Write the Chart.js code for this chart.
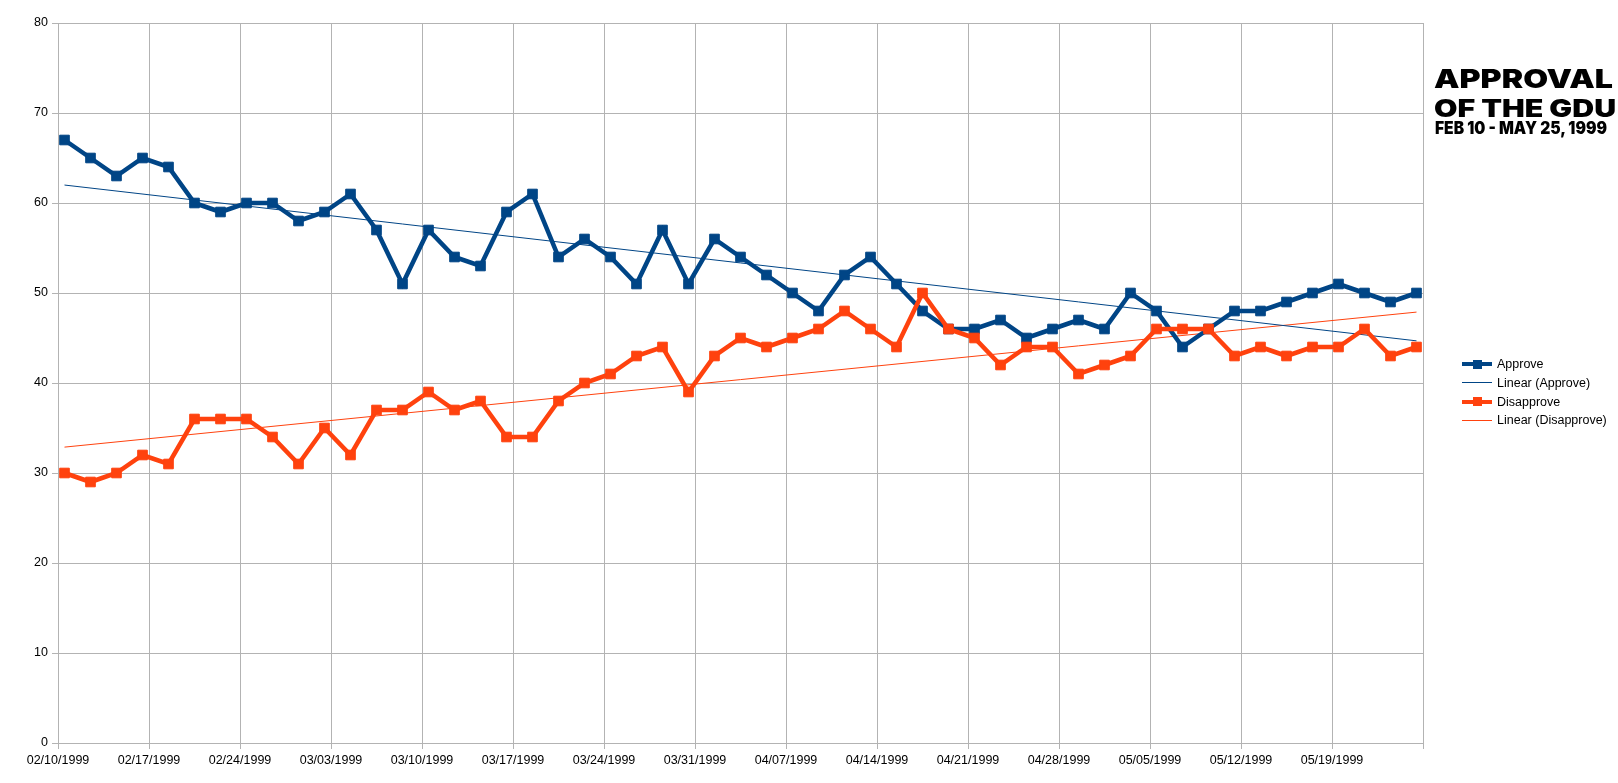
<!DOCTYPE html>
<html>
<head>
<meta charset="utf-8">
<title>Approval of the GDU</title>
<script src="https://cdn.jsdelivr.net/npm/chart.js@4.4.0/dist/chart.umd.min.js"></script>
<style>
    html, body { margin: 0; padding: 0; background: #fff; }
    #wrap { position: relative; width: 1618px; height: 783px; overflow: hidden; }
    #chart { position: absolute; left: 0; top: 0; }
    .title { position: absolute; left: 0; top: 0; white-space: nowrap; font-family: Inter, "DejaVu Sans", sans-serif; font-weight: 900; color: #000; line-height: 1; transform-origin: 0 0; }
    .legend-row { position: absolute; left: 1462px; height: 18px; display: flex; align-items: center; font-family: "Liberation Sans", Arial, sans-serif; font-size: 12.5px; color: #000; }
    .sym { position: relative; width: 30px; height: 18px; margin-right: 5px; }
    .sym .ln { position: absolute; left: 0; width: 30px; }
    .sym .sq { position: absolute; left: 10.5px; top: 4.5px; width: 9px; height: 9px; }
</style>
</head>
<body>
<div id="wrap">
    <canvas id="chart" width="1618" height="783"></canvas>
    <div id="t1" class="title">APPROVAL</div>
    <div id="t2" class="title">OF THE GDU</div>
    <div id="t3" class="title">FEB 10 - MAY 25, 1999</div>
    <div id="legend"></div>
</div>
<script>
// Poll dates (every two days)
const dates = [
    "02/10", "02/12", "02/14", "02/16", "02/18", "02/20", "02/22", "02/24", "02/26", "02/28",
    "03/02", "03/04", "03/06", "03/08", "03/10", "03/12", "03/14", "03/16", "03/18", "03/20",
    "03/22", "03/24", "03/26", "03/28", "03/30", "04/01", "04/03", "04/05", "04/07", "04/09",
    "04/11", "04/13", "04/15", "04/17", "04/19", "04/21", "04/23", "04/25", "04/27", "04/29",
    "05/01", "05/03", "05/05", "05/07", "05/09", "05/11", "05/13", "05/15", "05/17", "05/19",
    "05/21", "05/23", "05/25"
];
const year = 1999;

const approve = [
    67, 65, 63, 65, 64, 60, 59, 60, 60, 58,
    59, 61, 57, 51, 57, 54, 53, 59, 61, 54,
    56, 54, 51, 57, 51, 56, 54, 52, 50, 48,
    52, 54, 51, 48, 46, 46, 47, 45, 46, 47,
    46, 50, 48, 44, 46, 48, 48, 49, 50, 51,
    50, 49, 50
];
const disapprove = [
    30, 29, 30, 32, 31, 36, 36, 36, 34, 31,
    35, 32, 37, 37, 39, 37, 38, 34, 34, 38,
    40, 41, 43, 44, 39, 43, 45, 44, 45, 46,
    48, 46, 44, 50, 46, 45, 42, 44, 44, 41,
    42, 43, 46, 46, 46, 43, 44, 43, 44, 44,
    46, 43, 44
];

const xTickLabels = [
    "02/10/1999", "02/17/1999", "02/24/1999", "03/03/1999", "03/10/1999",
    "03/17/1999", "03/24/1999", "03/31/1999", "04/07/1999", "04/14/1999",
    "04/21/1999", "04/28/1999", "05/05/1999", "05/12/1999", "05/19/1999"
];

const seriesNames = ["Approve", "Linear (Approve)", "Disapprove", "Linear (Disapprove)"];
const blue = "#004586";
const orange = "#ff420e";
const gridColor = "#b3b3b3";

// days since first date, points sit in the middle of their day
const startMs = Date.UTC(year, 1, 10);
const dayOf = s => {
    const [m, d] = s.split("/").map(Number);
    return (Date.UTC(year, m - 1, d) - startMs) / 86400000;
};
const xs = dates.map(d => dayOf(d) + 0.5);
const axisEnd = dayOf("05/25") + 1;

const toPoints = vals => vals.map((v, i) => ({ x: xs[i], y: v }));

// least squares trend line, like the spreadsheet's "Linear" trendline
function trend(vals) {
    const n = vals.length;
    const mx = xs.reduce((a, b) => a + b, 0) / n;
    const my = vals.reduce((a, b) => a + b, 0) / n;
    let sxy = 0, sxx = 0;
    vals.forEach((v, i) => {
        sxy += (xs[i] - mx) * (v - my);
        sxx += (xs[i] - mx) * (xs[i] - mx);
    });
    const slope = sxy / sxx;
    const x0 = xs[0], x1 = xs[n - 1];
    return [
        { x: x0, y: my + slope * (x0 - mx) },
        { x: x1, y: my + slope * (x1 - mx) }
    ];
}

const mainLine = (label, vals, color, order) => ({
    label: label,
    data: toPoints(vals),
    borderColor: color,
    backgroundColor: color,
    borderWidth: 4.5,
    pointStyle: "rect",
    pointRadius: 6.8,
    pointBorderWidth: 1,
    pointBorderColor: color,
    pointBackgroundColor: color,
    tension: 0,
    order: order
});

const trendLine = (label, vals, color, order) => ({
    label: label,
    data: trend(vals),
    borderColor: color,
    borderWidth: 1,
    pointRadius: 0,
    tension: 0,
    order: order
});

const tickFont = { family: "'Liberation Sans', Arial, sans-serif", size: 12.5 };

new Chart(document.getElementById("chart"), {
    type: "line",
    data: {
        datasets: [
            mainLine(seriesNames[0], approve, blue, 1),
            trendLine(seriesNames[1], approve, blue, 2),
            mainLine(seriesNames[2], disapprove, orange, 0),
            trendLine(seriesNames[3], disapprove, orange, 3)
        ]
    },
    options: {
        responsive: false,
        animation: false,
        devicePixelRatio: 1,
        layout: { padding: { left: 0, top: 23, right: 195, bottom: 0 } },
        plugins: {
            legend: { display: false },
            tooltip: { enabled: false }
        },
        scales: {
            x: {
                type: "linear",
                min: 0,
                max: axisEnd,
                afterFit: scale => { scale.height = 40; },
                ticks: {
                    stepSize: 7,
                    autoSkip: false,
                    maxRotation: 0,
                    padding: 4,
                    color: "#000",
                    font: tickFont,
                    callback: (v, i) => xTickLabels[i] || ""
                },
                grid: { color: gridColor, tickLength: 6, tickColor: gridColor },
                border: { color: gridColor }
            },
            y: {
                min: 0,
                max: 80,
                afterFit: scale => { scale.width = 58; },
                ticks: {
                    stepSize: 10,
                    padding: 4,
                    color: "#000",
                    font: tickFont
                },
                grid: { color: gridColor, tickLength: 6, tickColor: gridColor },
                border: { color: gridColor }
            }
        }
    }
});

// legend on the right, built by hand to show line + marker
const legendRows = [
    { name: seriesNames[0], color: blue, thick: true, cy: 364 },
    { name: seriesNames[1], color: blue, thick: false, cy: 382.7 },
    { name: seriesNames[2], color: orange, thick: true, cy: 401.5 },
    { name: seriesNames[3], color: orange, thick: false, cy: 420 }
];
const legend = document.getElementById("legend");
legendRows.forEach(r => {
    const row = document.createElement("div");
    row.className = "legend-row";
    row.style.top = (r.cy - 9) + "px";
    const h = r.thick ? 4 : 1;
    row.innerHTML =
        `<div class="sym"><div class="ln" style="top:${9 - h / 2}px;height:${h}px;background:${r.color}"></div>` +
        (r.thick ? `<div class="sq" style="background:${r.color}"></div>` : "") +
        `</div><span>${r.name}</span>`;
    legend.appendChild(row);
});

// fit title lines to their place: left, baseline, width, font size
function placeTitle(id, left, baseline, width, size) {
    const el = document.getElementById(id);
    el.style.fontSize = size + "px";
    const probe = document.createElement("span");
    probe.style.cssText = "display:inline-block;width:0;height:0;vertical-align:baseline";
    el.appendChild(probe);
    const base = probe.offsetTop;
    el.removeChild(probe);
    const w = el.getBoundingClientRect().width;
    el.style.left = left + "px";
    el.style.top = (baseline - base) + "px";
    el.style.transform = `scaleX(${width / w})`;
}
placeTitle("t1", 1434, 87.5, 179, 25.5);
placeTitle("t2", 1434, 116.5, 182, 24);
placeTitle("t3", 1435, 133.5, 172, 17);
</script>
</body>
</html>
